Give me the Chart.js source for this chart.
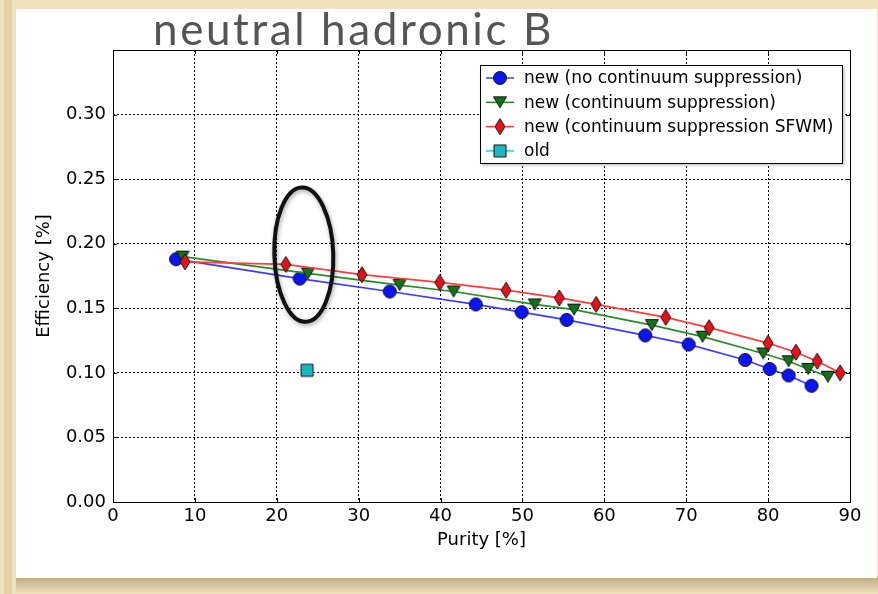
<!DOCTYPE html>
<html>
<head>
<meta charset="utf-8">
<script src="https://cdn.jsdelivr.net/npm/chart.js@4.4.1/dist/chart.umd.min.js"></script>
<style>
  html, body { margin: 0; padding: 0; background: #efe2bd; }
  canvas { display: block; }
</style>
</head>
<body>
<canvas id="purityChart" width="878" height="594"></canvas>
<script>
// values
const blueX = [7.7, 22.8, 33.8, 44.3, 49.9, 55.4, 65.0, 70.3, 77.2, 80.2, 82.5, 85.3];
const blueY = [0.188, 0.173, 0.163, 0.153, 0.147, 0.141, 0.129, 0.122, 0.110, 0.103, 0.098, 0.090];
const greenX = [8.5, 23.8, 35.0, 41.6, 51.5, 56.3, 65.8, 72.0, 79.4, 82.5, 84.9, 87.3];
const greenY = [0.190, 0.177, 0.168, 0.163, 0.153, 0.149, 0.137, 0.128, 0.115, 0.109, 0.103, 0.097];
const redX = [8.8, 21.1, 30.4, 39.9, 48.0, 54.5, 59.0, 67.5, 72.8, 80.0, 83.4, 86.0, 88.8];
const redY = [0.186, 0.184, 0.176, 0.170, 0.164, 0.158, 0.153, 0.143, 0.135, 0.123, 0.116, 0.109, 0.100];
const oldX = [23.7];
const oldY = [0.102];

const seriesNames = [
    'new (no continuum suppression)',
    'new (continuum suppression)',
    'new (continuum suppression SFWM)',
    'old'
];
const xTicks = [0, 10, 20, 30, 40, 50, 60, 70, 80, 90];
const yTicks = [0.00, 0.05, 0.10, 0.15, 0.20, 0.25, 0.30];

// hand-drawn ellipse highlight (data units)
const ringCenter = [23.3, 0.1915];
const ringRadius = [3.6, 0.052];

const colors = {
    blueLine: 'rgb(60,60,255)', blueFill: '#0a14f5',
    greenLine: 'rgb(40,140,40)', greenFill: '#16701a',
    redLine: 'rgb(255,60,60)', redFill: '#e8101a',
    cyanLine: 'rgb(40,200,200)', cyanFill: '#1cb8c0'
};

const toPoints = (xs, ys) => xs.map((x, i) => ({ x: x, y: ys[i] }));

function makeMarker(kind, fill) {
    const c = document.createElement('canvas');
    c.width = 18; c.height = 18;
    const g = c.getContext('2d');
    g.fillStyle = fill;
    g.strokeStyle = '#111';
    g.lineWidth = 1;
    g.beginPath();
    if (kind === 'circle') {
        g.arc(9, 9, 6.5, 0, Math.PI * 2);
    } else if (kind === 'tri') {
        g.moveTo(2.5, 3.5); g.lineTo(15.5, 3.5); g.lineTo(9, 14.5); g.closePath();
    } else if (kind === 'diamond') {
        g.moveTo(9, 1); g.lineTo(14, 9); g.lineTo(9, 17); g.lineTo(4, 9); g.closePath();
    } else {
        g.rect(3, 3, 12, 12);
    }
    g.fill();
    g.stroke();
    return c;
}

const markers = {
    circle: makeMarker('circle', colors.blueFill),
    tri: makeMarker('tri', colors.greenFill),
    diamond: makeMarker('diamond', colors.redFill),
    square: makeMarker('square', colors.cyanFill)
};

const legendItems = [
    { label: seriesNames[0], line: colors.blueLine, marker: markers.circle },
    { label: seriesNames[1], line: colors.greenLine, marker: markers.tri },
    { label: seriesNames[2], line: colors.redLine, marker: markers.diamond },
    { label: seriesNames[3], line: colors.cyanLine, marker: markers.square }
];

const pagePlugin = {
    id: 'page',
    beforeDraw(chart) {
        const ctx = chart.ctx;
        ctx.save();
        ctx.fillStyle = '#efe2bd';
        ctx.fillRect(0, 0, chart.width, chart.height);
        ctx.fillStyle = '#e2d3a8';
        ctx.fillRect(4, 0, 8, chart.height);
        const grad = ctx.createLinearGradient(0, 576, 0, 594);
        grad.addColorStop(0, '#b8a882');
        grad.addColorStop(1, '#efe2bd');
        ctx.fillStyle = grad;
        ctx.fillRect(16, 576, chart.width - 16, 18);
        ctx.fillStyle = '#ffffff';
        ctx.fillRect(16, 9, 861, 569);
        ctx.restore();
    },
    afterDatasetsDraw(chart) {
        const ctx = chart.ctx;
        const xs = chart.scales.x, ys = chart.scales.y;
        const a = chart.chartArea;

        // frame + inward ticks
        ctx.save();
        ctx.strokeStyle = '#000';
        ctx.lineWidth = 1;
        ctx.strokeRect(Math.round(a.left) + 0.5, Math.round(a.top) + 0.5, Math.round(a.right - a.left), Math.round(a.bottom - a.top));
        ctx.beginPath();
        xTicks.forEach(v => {
            const px = Math.round(xs.getPixelForValue(v)) + 0.5;
            ctx.moveTo(px, a.bottom); ctx.lineTo(px, a.bottom - 4);
            ctx.moveTo(px, a.top); ctx.lineTo(px, a.top + 4);
        });
        yTicks.forEach(v => {
            const py = Math.round(ys.getPixelForValue(v)) + 0.5;
            ctx.moveTo(a.left, py); ctx.lineTo(a.left + 4, py);
            ctx.moveTo(a.right, py); ctx.lineTo(a.right - 4, py);
        });
        ctx.stroke();

        // ellipse highlight
        const cx = xs.getPixelForValue(ringCenter[0]);
        const cy = ys.getPixelForValue(ringCenter[1]);
        const rx = xs.getPixelForValue(ringCenter[0] + ringRadius[0]) - cx;
        const ry = cy - ys.getPixelForValue(ringCenter[1] + ringRadius[1]);
        ctx.shadowColor = 'rgba(0,0,0,0.35)';
        ctx.shadowBlur = 4;
        ctx.shadowOffsetX = 1;
        ctx.shadowOffsetY = 2;
        ctx.strokeStyle = '#111';
        ctx.lineWidth = 4;
        ctx.beginPath();
        ctx.ellipse(cx, cy, rx, ry, -0.03, 0, Math.PI * 2);
        ctx.stroke();
        ctx.restore();

        // legend
        ctx.save();
        ctx.shadowColor = 'rgba(0,0,0,0.3)';
        ctx.shadowBlur = 3;
        ctx.shadowOffsetX = 2;
        ctx.shadowOffsetY = 2;
        ctx.fillStyle = '#fff';
        ctx.fillRect(480, 65, 362, 98);
        ctx.shadowColor = 'transparent';
        ctx.strokeStyle = '#000';
        ctx.lineWidth = 1;
        ctx.strokeRect(480.5, 65.5, 362, 98);
        ctx.font = '17px "DejaVu Sans"';
        ctx.textBaseline = 'middle';
        ctx.fillStyle = '#000';
        legendItems.forEach((item, i) => {
            const y = 78 + i * 24.3;
            ctx.strokeStyle = item.line;
            ctx.lineWidth = 1.5;
            ctx.beginPath();
            ctx.moveTo(486, y); ctx.lineTo(514, y);
            ctx.stroke();
            ctx.drawImage(item.marker, 491, y - 9);
            ctx.fillText(item.label, 524, y + 1);
        });
        ctx.restore();
    },
    afterDraw(chart) {
        const ctx = chart.ctx;
        ctx.save();
        ctx.font = '44px Lato';
        ctx.letterSpacing = '2.6px';
        ctx.fillStyle = '#555';
        ctx.textBaseline = 'alphabetic';
        ctx.fillText('neutral hadronic B', 153, 45);
        ctx.restore();
    }
};

const tickFont = { family: "'DejaVu Sans'", size: 18 };

new Chart(document.getElementById('purityChart'), {
    type: 'scatter',
    data: {
        datasets: [
            {
                label: seriesNames[0],
                data: toPoints(blueX, blueY),
                showLine: true,
                borderColor: colors.blueLine,
                borderWidth: 1.7,
                pointStyle: markers.circle,
                order: 3
            },
            {
                label: seriesNames[1],
                data: toPoints(greenX, greenY),
                showLine: true,
                borderColor: colors.greenLine,
                borderWidth: 1.7,
                pointStyle: markers.tri,
                order: 2
            },
            {
                label: seriesNames[2],
                data: toPoints(redX, redY),
                showLine: true,
                borderColor: colors.redLine,
                borderWidth: 1.7,
                pointStyle: markers.diamond,
                order: 1
            },
            {
                label: seriesNames[3],
                data: toPoints(oldX, oldY),
                showLine: false,
                borderColor: colors.cyanLine,
                pointStyle: markers.square,
                order: 0
            }
        ]
    },
    options: {
        responsive: false,
        animation: false,
        layout: { padding: { top: 50, right: 28, left: 0, bottom: 0 } },
        plugins: {
            legend: { display: false },
            tooltip: { enabled: false }
        },
        scales: {
            x: {
                type: 'linear',
                min: 0,
                max: 90,
                afterFit: s => { s.height = 92; },
                afterBuildTicks: s => { s.ticks = xTicks.map(v => ({ value: v })); },
                ticks: { font: tickFont, color: '#000', padding: 4, maxRotation: 0 },
                grid: { color: '#000', lineWidth: 1, drawTicks: false },
                border: { display: false, dash: [2, 2] },
                title: {
                    display: true,
                    text: 'Purity [%]',
                    font: { family: "'DejaVu Sans'", size: 18 },
                    color: '#000',
                    padding: { top: 0, bottom: 43 }
                }
            },
            y: {
                type: 'linear',
                min: 0,
                max: 0.35,
                afterFit: s => { s.width = 113; },
                afterBuildTicks: s => { s.ticks = yTicks.concat([0.35]).map(v => ({ value: v })); },
                ticks: {
                    font: tickFont,
                    color: '#000',
                    padding: 7,
                    callback: v => (v > 0.31 ? '' : v.toFixed(2))
                },
                grid: { color: '#000', lineWidth: 1, drawTicks: false },
                border: { display: false, dash: [2, 2] },
                title: {
                    display: true,
                    text: 'Efficiency [%]',
                    font: { family: "'DejaVu Sans'", size: 18 },
                    color: '#000',
                    padding: { top: 34, bottom: 0 }
                }
            }
        }
    },
    plugins: [pagePlugin]
});
</script>
</body>
</html>
